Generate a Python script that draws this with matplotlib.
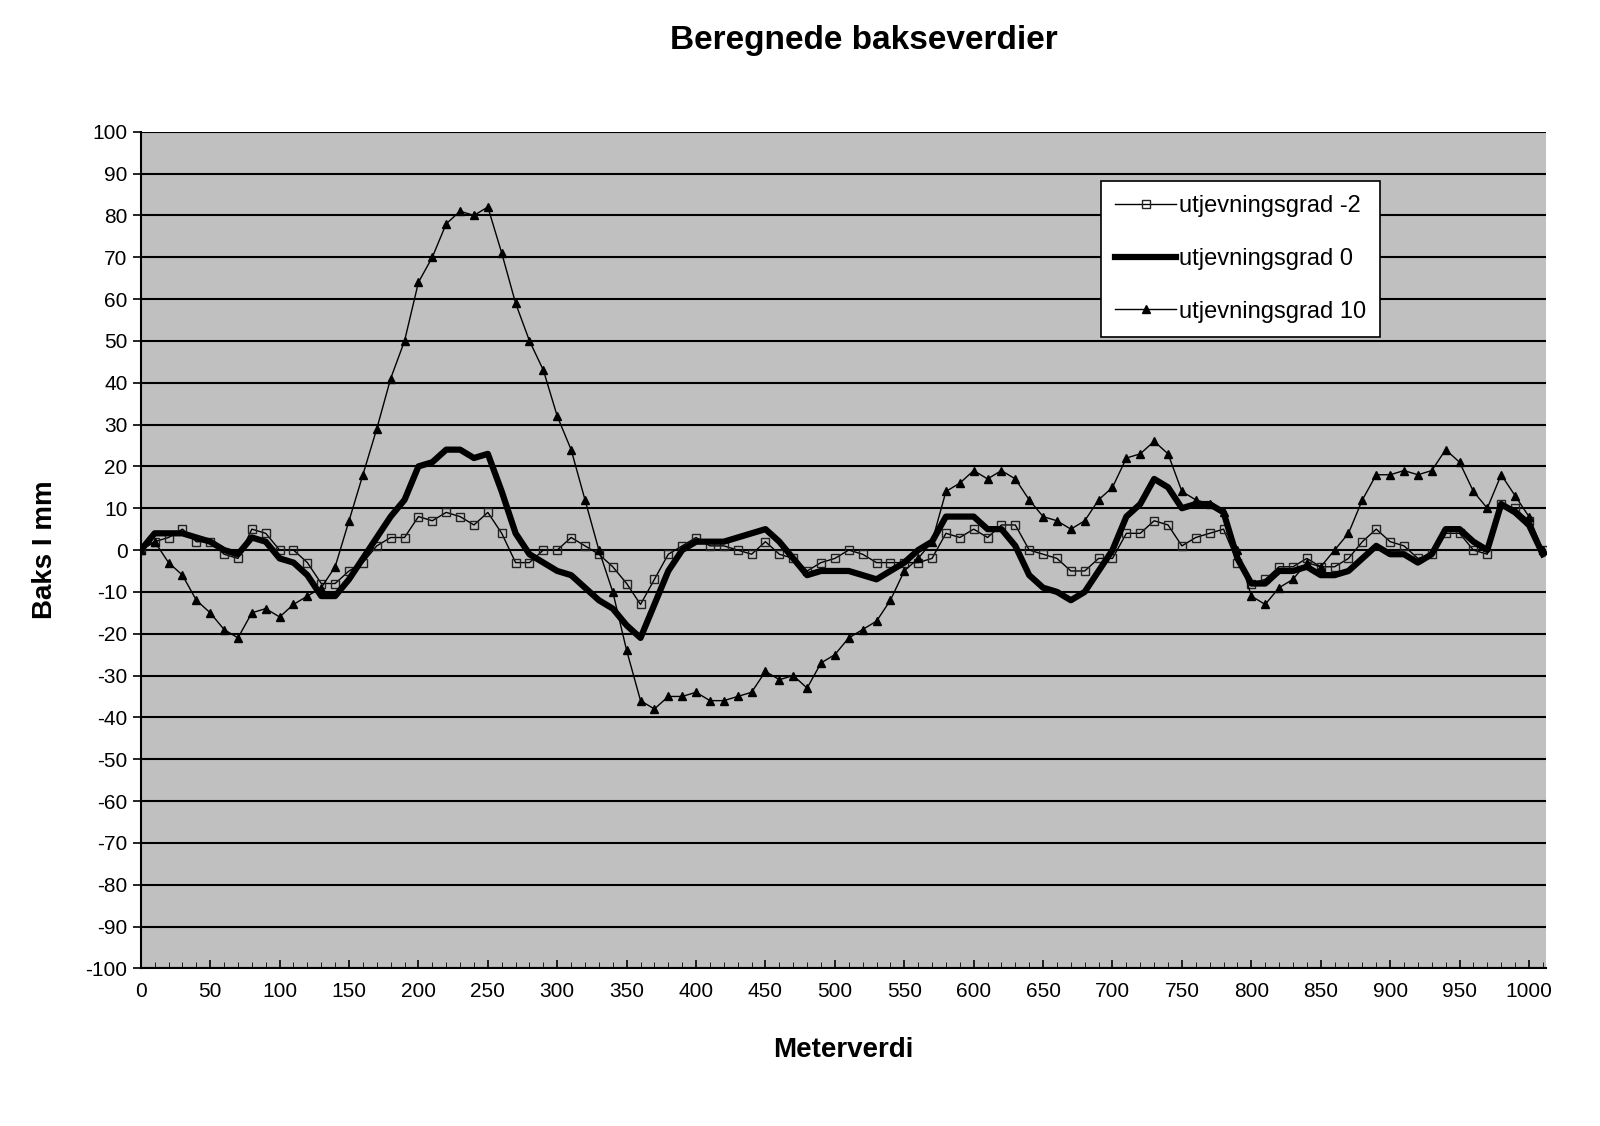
import matplotlib
matplotlib.use("Agg")
import matplotlib.pyplot as plt
import numpy as np
from matplotlib.ticker import MultipleLocator

plt.rcParams['font.family'] = ['Liberation Sans', 'DejaVu Sans']
plt.rcParams['axes.unicode_minus'] = False

meter = list(range(0, 1011, 10))
grad_m2 = [0,2,3,5,2,2,-1,-2,5,4,0,0,-3,-8,-8,-5,-3,1,3,3,8,7,9,8,6,9,4,-3,-3,0,0,3,1,-1,-4,-8,-13,-7,-1,1,3,1,1,0,-1,2,-1,-2,-5,-3,-2,0,-1,-3,-3,-3,-3,-2,4,3,5,3,6,6,0,-1,-2,-5,-5,-2,-2,4,4,7,6,1,3,4,5,-3,-8,-7,-4,-4,-2,-4,-4,-2,2,5,2,1,-2,-1,4,4,0,-1,11,10,7,0]
grad_0 = [0,4,4,4,3,2,0,-1,3,2,-2,-3,-6,-11,-11,-7,-2,3,8,12,20,21,24,24,22,23,14,4,-1,-3,-5,-6,-9,-12,-14,-18,-21,-13,-5,0,2,2,2,3,4,5,2,-2,-6,-5,-5,-5,-6,-7,-5,-3,0,2,8,8,8,5,5,1,-6,-9,-10,-12,-10,-5,0,8,11,17,15,10,11,11,9,-2,-8,-8,-5,-5,-4,-6,-6,-5,-2,1,-1,-1,-3,-1,5,5,2,0,11,9,6,-1]
grad_10 = [0,2,-3,-6,-12,-15,-19,-21,-15,-14,-16,-13,-11,-9,-4,7,18,29,41,50,64,70,78,81,80,82,71,59,50,43,32,24,12,0,-10,-24,-36,-38,-35,-35,-34,-36,-36,-35,-34,-29,-31,-30,-33,-27,-25,-21,-19,-17,-12,-5,-2,2,14,16,19,17,19,17,12,8,7,5,7,12,15,22,23,26,23,14,12,11,9,0,-11,-13,-9,-7,-3,-4,0,4,12,18,18,19,18,19,24,21,14,10,18,13,8,0]
labels = ["utjevningsgrad -2", "utjevningsgrad 0", "utjevningsgrad 10"]

fig = plt.figure(figsize=(16, 11.26), dpi=100)
ax = fig.add_axes([0.088, 0.140, 0.878, 0.743])
ax.set_facecolor('#c0c0c0')
ax.plot(meter, grad_m2, color='black', lw=1, marker='s', ms=6, mfc='none', mec='#222222', mew=1, label=labels[0])
ax.plot(meter, grad_0, color='black', lw=4.5, label=labels[1])
ax.plot(meter, grad_10, color='black', lw=1, marker='^', ms=6, mfc='black', label=labels[2])

ax.set_xlim(0, 1012)
ax.set_ylim(-100, 100)
ax.yaxis.set_major_locator(MultipleLocator(10))
ax.xaxis.set_major_locator(MultipleLocator(50))
ax.xaxis.set_minor_locator(MultipleLocator(10))
ax.grid(axis='y', color='black', lw=1.5)
ax.set_axisbelow(True)
for s in ['top', 'right']:
    ax.spines[s].set_visible(False)
ax.spines['left'].set_linewidth(1.5)
ax.spines['bottom'].set_linewidth(1.5)
ax.tick_params(axis='both', labelsize=15, direction='in', length=6, width=1.2)
ax.tick_params(axis='x', which='minor', direction='in', length=4)
ax.tick_params(axis='y', direction='out')
ax.tick_params(axis='x', pad=10)
ax.set_xlabel("Meterverdi", fontsize=20, fontweight='bold', labelpad=26)
ax.set_ylabel("Baks I mm", fontsize=20, fontweight='bold', labelpad=20)
fig.suptitle("Beregnede bakseverdier", fontsize=24, fontweight='bold', x=0.54, y=0.978)

leg = ax.legend(loc='upper left', bbox_to_anchor=(0.675, 0.955), fontsize=17, frameon=True,
                fancybox=False, edgecolor='black', framealpha=1, borderpad=0.6,
                labelspacing=1.3, handlelength=2.6, handletextpad=0.1)
leg.get_frame().set_linewidth(1.2)
fig.savefig("out.png", dpi=100)
